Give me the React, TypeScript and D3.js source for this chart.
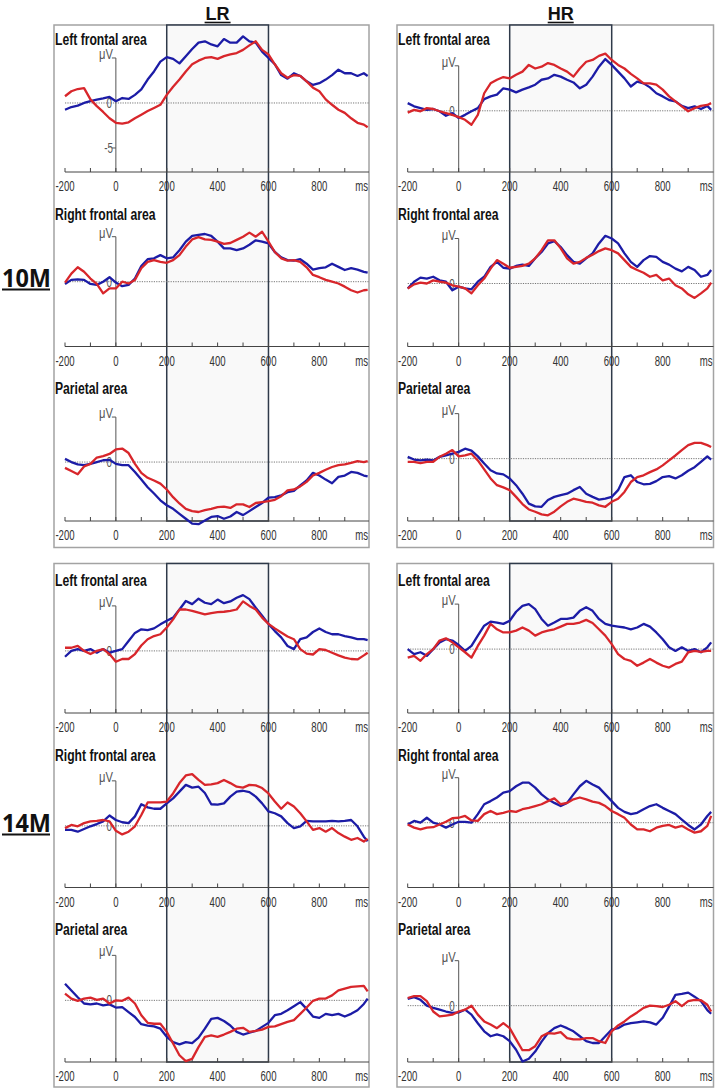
import React from 'react';
import * as d3 from 'd3';

// ---------- data ----------
const times = [
  -200, -175, -150, -125, -100, -75, -50, -25,
  0, 25, 50, 75, 100, 125, 150, 175,
  200, 225, 250, 275, 300, 325, 350, 375,
  400, 425, 450, 475, 500, 525, 550, 575,
  600, 625, 650, 675, 700, 725, 750, 775,
  800, 825, 850, 875, 900, 925, 950, 975,
  990,
];

const panelTitles = ['Left frontal area', 'Right frontal area', 'Parietal area'];
const ageLabels = ['10M', '14M'];
const groupLabels = ['LR', 'HR'];
const xTickLabels = [-200, 0, 200, 400, 600, 800];
const xMinorTicks = [-200, -100, 0, 100, 200, 300, 400, 500, 600, 700, 800, 900];
const windowStart = 200;
const windowEnd = 600;

// 10M, LR
const m10LR_left_blue = [
  -0.75, -0.45, -0.3, 0, 0.2, 0.37, 0.5, 0.67,
  0.2, 0.55, 0.45, 0.9, 1.5, 2.6, 3.5, 4.6,
  5.1, 4.9, 4.4, 5.2, 6.0, 6.7, 6.85, 6.5,
  6.3, 7.1, 6.7, 6.7, 7.4, 6.85, 6.7, 5.7,
  5.0, 4.3, 3.1, 2.7, 3.3, 3.0, 2.4, 2.0,
  2.2, 2.6, 3.1, 3.7, 3.3, 3.3, 3.0, 3.3,
  3.0,
];
const m10LR_left_red = [
  0.75, 1.3, 1.55, 1.65, 0.4, -0.35, -1.0, -1.7,
  -2.2, -2.3, -2.15, -1.7, -1.3, -0.9, -0.55, -0.2,
  0.9, 1.8, 2.6, 3.5, 4.3, 4.7, 5.0, 5.1,
  4.9, 5.2, 5.4, 5.55, 5.9, 6.4, 6.85, 5.9,
  5.4, 4.3, 3.3, 2.8, 3.1, 3.0, 2.4, 1.7,
  1.3, 0.4, -0.2, -0.75, -1.1, -1.7, -2.2, -2.4,
  -2.7,
];
const m10LR_right_blue = [
  -0.25, 0.2, 0.25, 0.2, -0.25, -0.35, 0, 0.5,
  -0.1, -0.5, -0.35, 0.35, 1.75, 2.5, 2.6, 2.95,
  2.6, 2.7, 3.5, 4.45, 5.1, 5.2, 5.3, 5.1,
  4.45, 3.7, 3.7, 3.5, 3.7, 4.1, 4.6, 4.45,
  4.25, 3.3, 2.7, 2.4, 2.35, 2.5, 2.0, 1.35,
  1.5, 1.6, 2.0, 1.65, 1.3, 1.5, 1.35, 1.1,
  1.0,
];
const m10LR_right_red = [
  -0.1, 0.9, 1.6, 1.1, 0.35, -0.25, -1.3, -0.75,
  -0.75, 0, -0.2, 0.2, 1.5, 2.2, 2.4, 2.2,
  2.1, 2.4, 2.95, 3.9, 4.7, 4.95, 4.7, 4.65,
  4.45, 4.2, 4.3, 4.65, 5.0, 5.45, 5.0, 5.55,
  4.45, 3.3, 2.6, 2.35, 2.4, 2.2, 1.6, 0.75,
  0.5, 0.2, 0, -0.2, -0.55, -0.95, -1.2, -0.95,
  -0.9,
];
const m10LR_par_blue = [
  0.35, 0, -0.25, -0.35, -0.2, 0, 0.2, 0.25,
  -0.2, -0.35, -0.35, -1.1, -1.95, -2.8, -3.5, -4.25,
  -4.8, -5.2, -5.75, -6.3, -6.85, -6.9, -6.5, -6.1,
  -6.0, -6.3, -6.05, -5.55, -5.9, -5.45, -5.0, -4.55,
  -3.95, -3.9, -3.7, -3.35, -3.2, -2.6, -2.05, -1.2,
  -1.5, -1.95, -2.35, -1.65, -1.5, -1.1, -1.2, -1.5,
  -1.6,
];
const m10LR_par_red = [
  -0.65, -1.0, -1.35, -0.5, -0.2, 0.5, 0.65, 0.9,
  1.4, 1.5, 1.0, -0.2, -1.2, -1.75, -2.05, -2.4,
  -3.05, -3.9, -4.6, -5.2, -5.45, -5.55, -5.35, -5.2,
  -5.0, -4.95, -5.1, -4.7, -4.7, -5.0, -4.55, -4.45,
  -4.35, -4.2, -3.8, -3.15, -3.05, -2.7, -2.2, -1.5,
  -1.2, -0.85, -0.55, -0.35, -0.25, -0.1, 0.1, 0,
  0.1,
];

// 10M, HR
const m10HR_left_blue = [
  0.85, 0.5, 0.3, 0.1, 0.2, -0.05, -0.55, -0.25,
  -0.8, -0.45, -0.05, 0.3, 1.3, 1.6, 1.8, 2.5,
  2.35, 2.05, 2.35, 2.6, 2.9, 3.45, 3.6, 4.0,
  3.8, 3.45, 3.15, 2.5, 2.9, 3.8, 4.9, 5.75,
  5.1, 4.35, 3.6, 2.7, 3.25, 3.05, 2.6, 1.95,
  1.6, 1.2, 1.05, 0.55, 0.3, 0.5, 0.2, 0.55,
  0.1,
];
const m10HR_left_red = [
  -0.2, 0.1, -0.05, 0.3, 0.2, -0.05, -0.25, -0.45,
  -0.7, -1.0, -1.55, -0.45, 1.95, 3.05, 3.45, 3.75,
  3.6, 4.0, 4.35, 5.1, 4.7, 4.9, 5.3, 5.1,
  4.7, 4.35, 3.8, 4.7, 5.45, 5.65, 6.1, 6.35,
  5.65, 5.1, 4.7, 4.1, 3.6, 3.05, 3.05, 2.9,
  2.35, 1.6, 1.05, 0.5, -0.05, 0.3, 0.55, 0.65,
  0.85,
];
const m10HR_right_blue = [
  -0.55, 0.2, 0.65, 0.55, 0.75, 0.35, 0.2, -0.75,
  -0.35, -0.55, -0.65, 0.2, 0.75, 1.85, 2.4, 1.75,
  1.65, 1.95, 2.1, 1.95, 2.8, 3.5, 4.45, 4.7,
  4.05, 3.15, 2.4, 2.2, 2.8, 3.35, 4.45, 5.3,
  5.0, 4.45, 3.35, 2.4, 1.85, 2.6, 3.05, 2.95,
  2.4, 2.1, 1.65, 1.35, 1.85, 1.5, 0.75, 0.95,
  1.5,
];
const m10HR_right_red = [
  -0.55, -0.1, 0.1, 0, 0.35, 0.2, 0.1, -0.2,
  -0.35, -0.55, -1.1, -0.2, 0.55, 1.65, 2.6, 2.2,
  1.75, 1.85, 1.95, 2.2, 2.8, 3.7, 4.8, 4.8,
  3.9, 2.8, 2.2, 2.4, 2.85, 3.2, 3.6, 3.9,
  3.7, 3.35, 2.6, 1.85, 1.5, 1.2, 0.75, 0.95,
  0.35, 0.55, -0.2, -0.55, -1.2, -1.6, -1.1, -0.55,
  0.1,
];
const m10HR_par_blue = [
  0.2, -0.1, -0.2, -0.1, -0.2, 0.2, 0.35, 0.55,
  0.75, 1.1, 0.9, 0.25, -0.55, -1.3, -1.65, -1.75,
  -2.2, -2.95, -3.9, -5.0, -5.3, -5.35, -4.6, -4.25,
  -4.05, -3.9, -3.5, -3.15, -3.9, -4.25, -4.55, -4.45,
  -4.25, -3.5, -2.05, -1.85, -2.6, -2.85, -2.8, -2.5,
  -2.05, -1.95, -2.2, -1.85, -1.35, -0.95, -0.35, 0.25,
  -0.1,
];
const m10HR_par_red = [
  -0.35, -0.35, -0.5, -0.35, -0.35, 0.2, 0.55, 0.95,
  0.25, 0.35, 0.55, -0.2, -1.2, -2.2, -2.95, -3.2,
  -3.5, -4.25, -5.05, -5.65, -5.9, -6.2, -6.3, -5.9,
  -5.3, -4.8, -4.45, -4.6, -4.8, -4.9, -5.2, -5.35,
  -4.8, -4.45, -3.7, -2.6, -2.05, -1.85, -1.5, -1.2,
  -0.75, -0.2, 0.35, 0.95, 1.5, 1.75, 1.75, 1.5,
  1.3,
];

// 14M, LR
const m14LR_left_blue = [
  -0.65, 0, 0.2, 0, 0.2, -0.2, 0.2, -0.2,
  0, 0.2, 1.1, 2.0, 2.4, 2.3, 2.5, 2.95,
  3.35, 3.7, 4.6, 5.55, 5.2, 5.8, 5.35, 5.2,
  5.7, 5.3, 5.5, 5.9, 6.2, 5.75, 4.8, 3.9,
  3.0, 2.2, 1.5, 0.55, 0.2, 1.3, 1.5, 2.1,
  2.5, 2.1, 1.85, 1.85, 1.65, 1.5, 1.3, 1.3,
  1.2,
];
const m14LR_left_red = [
  0.35, 0.35, 0.55, 0, -0.35, 0, 0.2, -0.35,
  -1.2, -0.9, -0.9, -0.35, 0.6, 1.3, 1.65, 1.85,
  2.6, 3.5, 4.6, 4.6, 4.45, 4.25, 4.05, 4.2,
  4.3, 4.35, 4.45, 4.6, 5.5, 5.0, 4.6, 3.7,
  3.0, 2.5, 2.05, 1.6, 1.3, 0.2, -0.3, -0.4,
  0.2, 0.1, -0.2, -0.5, -0.75, -0.9, -0.95, -0.5,
  -0.2,
];
const m14LR_right_blue = [
  -0.45, -0.45, -0.65, -0.35, -0.05, 0.2, 0.5, 1.15,
  0.65, 0.4, 0.3, 1.05, 2.4, 2.05, 1.9, 1.9,
  2.5, 3.05, 3.8, 4.55, 4.25, 4.35, 3.65, 2.4,
  2.35, 2.5, 3.25, 3.8, 3.9, 3.75, 3.25, 2.5,
  1.6, 1.4, 1.05, 0.3, -0.25, -0.05, 0.55, 0.5,
  0.5, 0.5, 0.55, 0.5, 0.55, 0.65, -0.05, -1.2,
  -1.7,
];
const m14LR_right_red = [
  -0.25, 0.1, -0.05, 0.3, 0.5, 0.55, 0.65, 0.5,
  -0.55, -0.95, -0.65, -0.05, 1.2, 2.6, 2.6, 2.6,
  2.7, 3.6, 4.75, 5.6, 5.75, 5.1, 4.55, 4.6,
  4.75, 5.1, 4.75, 4.35, 4.25, 4.55, 4.5, 4.2,
  3.6, 2.7, 1.9, 2.6, 2.15, 1.4, 0.5, -0.45,
  -0.25, -0.65, -0.25, -0.8, -1.2, -1.55, -1.35, -1.75,
  -1.45,
];
const m14LR_par_blue = [
  1.85, 1.1, 0.35, -0.35, -0.45, -0.35, -0.55, -0.45,
  -0.8, -0.75, -1.3, -1.85, -2.65, -2.8, -2.9, -3.15,
  -4.05, -4.65, -4.9, -4.65, -4.75, -4.15, -3.15, -2.05,
  -1.95, -2.3, -2.8, -3.5, -3.8, -3.6, -3.4, -2.95,
  -2.5, -1.65, -1.5, -1.1, -0.65, -0.2, -0.95, -1.8,
  -1.95, -1.5, -1.65, -1.5, -1.8, -1.5, -1.1, -0.4,
  0.2,
];
const m14LR_par_red = [
  0.75, 0.2, -0.05, 0.2, 0.3, 0.05, 0.2, -0.35,
  0, -0.05, 0.3, -0.35, -1.65, -2.5, -2.6, -2.6,
  -3.5, -4.8, -6.1, -6.75, -6.5, -5.2, -4.05, -3.9,
  -4.05, -3.8, -3.5, -3.15, -3.05, -3.5, -3.4, -3.25,
  -2.95, -2.9, -2.65, -2.4, -2.2, -1.5, -0.8, -0.05,
  0.2, 0.2, 0.55, 1.1, 1.3, 1.5, 1.55, 1.6,
  1.0,
];

// 14M, HR
const m14HR_left_blue = [
  0, -0.55, -0.35, -0.75, 0, 0.75, 1.1, 0.95,
  0.45, -0.2, 0.35, 1.5, 2.6, 3.05, 2.95, 2.8,
  3.15, 4.15, 4.8, 5.0, 4.45, 3.35, 2.6, 2.95,
  3.35, 3.35, 3.5, 4.25, 4.65, 4.25, 3.35, 2.8,
  2.6, 2.5, 2.4, 2.2, 2.4, 2.8, 2.5, 1.85,
  1.1, 0.2, -0.2, 0.2, -0.2, 0, -0.35, 0.2,
  0.75,
];
const m14HR_left_red = [
  -0.95, -0.75, -1.3, -0.55, 0, 0.95, 1.2, 0.75,
  0.2, -0.35, -0.95, 0.35, 1.5, 2.8, 2.2, 1.85,
  1.85, 2.05, 2.4, 2.05, 1.5, 1.85, 2.05, 2.2,
  2.5, 2.8, 2.8, 2.95, 3.25, 2.9, 2.2, 1.5,
  0.55, -0.55, -1.1, -1.3, -1.85, -1.5, -1.1, -1.5,
  -1.85, -2.05, -1.65, -1.4, -0.35, -0.2, -0.3, -0.2,
  -0.2,
];
const m14HR_right_blue = [
  -0.2, 0.2, 0, 0.55, 0, -0.2, -0.55, -0.2,
  0.1, 0.1, 0, 0.95, 2.05, 2.4, 2.8, 3.35,
  3.5, 4.05, 4.45, 4.45, 3.9, 3.15, 2.6, 2.2,
  1.85, 2.2, 3.15, 4.05, 4.65, 4.25, 3.9, 3.15,
  2.4, 1.65, 1.2, 0.95, 1.1, 1.5, 1.85, 2.05,
  1.65, 1.3, 0.95, 0.35, -0.25, -0.75, -0.2, 0.75,
  1.2,
];
const m14HR_right_red = [
  -0.2, -0.55, -0.75, -0.55, -0.5, -0.2, 0.1, 0.5,
  0.55, 0.75, 0.25, 0.2, 0.95, 1.3, 0.95, 1.1,
  1.3, 1.2, 1.5, 1.65, 1.85, 2.05, 2.4, 2.7,
  2.05, 2.2, 2.6, 2.8, 2.6, 2.35, 2.2, 1.85,
  1.3, 0.95, 0.55, -0.2, -0.75, -0.75, -0.95, -0.55,
  -0.35, -0.25, -0.55, -0.35, -0.75, -1.1, -0.95, -0.35,
  0.75,
];
const m14HR_par_blue = [
  0.75, 0.95, 0.65, 0, -0.25, -0.45, -0.65, -0.8,
  -0.75, -0.45, -1.0, -1.95, -2.85, -3.4, -3.2, -3.4,
  -3.95, -4.9, -6.2, -5.9, -5.1, -4.0, -3.05, -2.5,
  -2.2, -2.5, -2.85, -3.4, -3.95, -4.15, -4.15, -3.4,
  -2.65, -2.5, -2.1, -1.95, -1.85, -1.75, -1.85, -2.1,
  -1.35, -0.1, 1.2, 1.3, 1.45, 1.0, 0.5, -0.5,
  -0.9,
];
const m14HR_par_red = [
  0.85, 1.05, 1.05, 0.5, -0.65, -1.2, -1.1, -1.0,
  -0.65, -0.45, 0, -1.0, -1.75, -2.1, -2.5, -1.95,
  -2.5, -3.75, -4.95, -4.95, -4.5, -3.4, -3.05, -3.1,
  -2.95, -3.6, -3.75, -3.75, -3.6, -3.6, -3.95, -4.15,
  -2.85, -2.2, -1.75, -1.2, -0.75, -0.25, 0, -0.05,
  -0.15, 0.1, 0.5, -0.05, 0.5, 0.65, 0.6, 0.1,
  -0.65,
];

// value at the x axis of each panel (y-domain minimum), per age/group/area
const yMinLR10 = [-7.67, -7.2, -6.55];
const yMinHR10 = [-6.8, -7.0, -6.93];
const yMinLR14 = [-6.9, -6.85, -6.85];
const yMinHR14 = [-7.1, -7.2, -6.26];

// ---------- layout ----------
const W = 716;
const H = 1089;
const COLS = [
  { xr: [65, 370.2], box: [54, 369] },
  { xr: [407.7, 713.7], box: [397, 713.5] },
];
const AXIS_Y = [172, 346.5, 521];
const AGE_DY = [0, 541];
const BOX_Y = [
  [25, 547.5],
  [563.5, 1087],
];
const PANEL_H = 134;
const PX_PER_UV = 9;
const BLUE = '#1c1ca6';
const RED = '#d8262b';
const FONT = 'Liberation Sans, Arial, sans-serif';

const series = [
  [
    [
      [m10LR_left_blue, m10LR_left_red],
      [m10LR_right_blue, m10LR_right_red],
      [m10LR_par_blue, m10LR_par_red],
    ],
    [
      [m10HR_left_blue, m10HR_left_red],
      [m10HR_right_blue, m10HR_right_red],
      [m10HR_par_blue, m10HR_par_red],
    ],
  ],
  [
    [
      [m14LR_left_blue, m14LR_left_red],
      [m14LR_right_blue, m14LR_right_red],
      [m14LR_par_blue, m14LR_par_red],
    ],
    [
      [m14HR_left_blue, m14HR_left_red],
      [m14HR_right_blue, m14HR_right_red],
      [m14HR_par_blue, m14HR_par_red],
    ],
  ],
];
const yMins = [
  [yMinLR10, yMinHR10],
  [yMinLR14, yMinHR14],
];

function CText(props: any) {
  const { x, y, sx = 1, size, weight = 400, fill = '#111', anchor = 'start', family = FONT, children } = props;
  return (
    <text
      transform={`translate(${x},${y}) scale(${sx},1)`}
      fontSize={size}
      fontWeight={weight}
      fill={fill}
      textAnchor={anchor}
      fontFamily={family}
    >
      {children}
    </text>
  );
}

function Panel({ age, col, area }: { age: number; col: number; area: number }) {
  const c = COLS[col];
  const axisY = AXIS_Y[area] + AGE_DY[age];
  const yMin = yMins[age][col][area];
  const x = d3.scaleLinear().domain([-200, 1000]).range(c.xr);
  const y = d3
    .scaleLinear()
    .domain([yMin, yMin + PANEL_H / PX_PER_UV])
    .range([axisY, axisY - PANEL_H]);
  const [blue, red] = series[age][col][area];
  const line = d3
    .line<number>()
    .x((_, i) => x(times[i]))
    .y((d) => y(d));
  const x0 = x(0);
  const zeroY = y(0);
  const topTick = y(5);
  const right = c.box[1];
  return (
    <g>
      {/* title */}
      <CText x={c.box[0] + 1} y={axisY - 127} sx={0.76} size={16} weight={700} fill="#111">
        {panelTitles[area]}
      </CText>
      {/* zero dotted line */}
      <line x1={x(-200)} x2={right} y1={zeroY} y2={zeroY} stroke="#777" strokeWidth={1} strokeDasharray="1.2,1.2" />
      {/* y axis */}
      <line x1={x0} x2={x0} y1={topTick} y2={axisY} stroke="#555" strokeWidth={1} />
      <line x1={x0 - 4} x2={x0} y1={topTick} y2={topTick} stroke="#555" strokeWidth={1} />
      <CText x={x0 - 3} y={topTick + 1} sx={0.8} size={14} fill="#555" anchor="end">
        μV
      </CText>
      <CText x={x0 - 4} y={zeroY + 5} sx={0.7} size={14} fill="#555" anchor="end">
        0
      </CText>
      {age === 0 && col === 0 && area === 0 && (
        <g>
          <line x1={x0 - 4} x2={x0} y1={y(-5)} y2={y(-5)} stroke="#555" strokeWidth={1} />
          <CText x={x0 - 3} y={y(-5) + 5} sx={0.7} size={14} fill="#555" anchor="end">
            -5
          </CText>
        </g>
      )}
      {/* x axis */}
      <line x1={x(-200)} x2={right} y1={axisY} y2={axisY} stroke="#444" strokeWidth={1} />
      {xMinorTicks.map((t) => (
        <line key={t} x1={x(t)} x2={x(t)} y1={axisY} y2={axisY - 4} stroke="#444" strokeWidth={1} />
      ))}
      {xTickLabels.map((t) => (
        <CText key={t} x={x(t)} y={axisY + 19} sx={0.64} size={15} fill="#333" anchor="middle">
          {String(t)}
        </CText>
      ))}
      <CText x={right - 1} y={axisY + 19} sx={0.64} size={15} fill="#333" anchor="end">
        ms
      </CText>
      {/* waveforms */}
      <path d={line(blue) || ''} fill="none" stroke={BLUE} strokeWidth={2.3} strokeLinejoin="round" />
      <path d={line(red) || ''} fill="none" stroke={RED} strokeWidth={2.3} strokeLinejoin="round" />
    </g>
  );
}

export default function App() {
  return (
    <svg
      width={W}
      height={H}
      viewBox={`0 0 ${W} ${H}`}
      style={{ position: 'absolute', left: 0, top: 0, background: '#fff' }}
    >
      <rect x={0} y={0} width={W} height={H} fill="#fff" />
      {[0, 1].map((age) =>
        [0, 1].map((col) => {
          const c = COLS[col];
          const x = d3.scaleLinear().domain([-200, 1000]).range(c.xr);
          const [by0, by1] = BOX_Y[age];
          const lastAxis = AXIS_Y[2] + AGE_DY[age];
          return (
            <g key={`${age}-${col}`}>
              <rect x={c.box[0]} y={by0} width={c.box[1] - c.box[0]} height={by1 - by0} fill="#fff" stroke="#a3a3a3" strokeWidth={1.5} />
              <rect
                x={x(windowStart)}
                y={by0}
                width={x(windowEnd) - x(windowStart)}
                height={lastAxis - by0}
                fill="#f9f9f9"
                stroke="#2f3a4a"
                strokeWidth={1.5}
              />
              {[0, 1, 2].map((area) => (
                <Panel key={area} age={age} col={col} area={area} />
              ))}
            </g>
          );
        })
      )}
      {groupLabels.map((g, col) => {
        const c = COLS[col];
        const x = d3.scaleLinear().domain([-200, 1000]).range(c.xr);
        const cx = (x(windowStart) + x(windowEnd)) / 2;
        return (
          <g key={g}>
            <CText x={cx} y={19.5} sx={0.95} size={19} weight={700} fill="#111" anchor="middle">
              {g}
            </CText>
            <line x1={cx - 13} x2={cx + 13} y1={22.5} y2={22.5} stroke="#111" strokeWidth={1.6} />
          </g>
        );
      })}
      {ageLabels.map((a, i) => {
        const base = i === 0 ? 287 : 832;
        return (
          <g key={a}>
            <CText x={2} y={base} sx={0.94} size={25} weight={700} fill="#111" family="Open Sans, Liberation Sans, sans-serif">
              {a}
            </CText>
            <line x1={2} x2={50} y1={base + 2.5} y2={base + 2.5} stroke="#111" strokeWidth={1.8} />
          </g>
        );
      })}
    </svg>
  );
}
